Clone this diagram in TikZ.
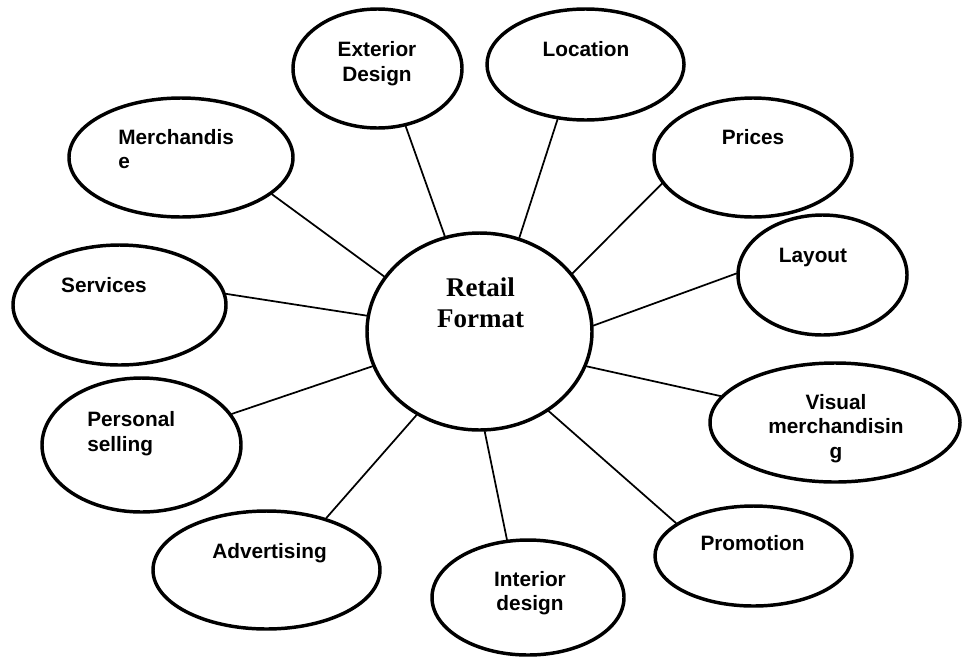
\documentclass[tikz,border=0pt]{standalone}
\usepackage{fontspec}
\setmainfont{Liberation Serif}
\newfontfamily\arialfont{Liberation Sans}
\usepackage{tikz}
\usetikzlibrary{shapes.geometric}
\definecolor{ink}{HTML}{000000}
\tikzset{
  bub/.style={draw=ink, ellipse, line width=2.6pt, inner sep=0pt},
  link/.style={draw=ink, line width=1.3pt, line cap=round},
  lab/.style={text=ink, font=\arialfont\bfseries\fontsize{15.6}{18.4}\selectfont, inner sep=0pt, anchor=base, align=center},
  hub/.style={text=ink, font=\bfseries\fontsize{20.25}{23.25}\selectfont, inner sep=0pt, anchor=base, align=center},
}

\begin{document}
\begin{tikzpicture}[x=0.75pt,y=-0.75pt]
  \useasboundingbox (0,0) rectangle (962,661);
  % ellipses: name/x/y/half width/half height
  \foreach \n/\x/\y/\a/\b in {ctr/479.5/331.5/112.5/98.5, merch/181/157.5/112/59.5,
      ext/377.5/68.5/84.5/59.5, loc/585.5/64.5/98.5/55.5, pri/753/157.5/99/59.5,
      lay/822.5/275/84.5/60, vis/835/422.5/125/59.5, pro/753.5/556/98.5/50,
      int/528/597.5/96/57.5, adv/266.5/570/113.5/59, per/141.5/445/99.5/67,
      ser/119.5/305/106.5/60}
    \node[bub, minimum width={1.5pt*\a}, minimum height={1.5pt*\b}] (\n) at (\x,\y) {};
  % texts (base = last line)
  \node[hub] (ctrT) at (480.5,327.7) {Retail\\Format};
  \node[lab, anchor=base west, align=left] (merchT) at (118,168.8) {Merchandis\\e};
  \node[lab] (extT) at (377,81) {Exterior\\Design};
  \node[lab] (locT) at (586,56) {Location};
  \node[lab] (priT) at (753,144) {Prices};
  \node[lab] (layT) at (813,262) {Layout};
  \node[lab] (visT) at (836,458.5) {Visual\\merchandisin\\g};
  \node[lab] (proT) at (752.5,550.7) {Promotion};
  \node[lab] (intT) at (530,610.7) {Interior\\design};
  \node[lab] (advT) at (269.5,558) {Advertising};
  \node[lab, anchor=base west, align=left] (perT) at (87,451) {Personal\\selling};
  \node[lab] (serT) at (104,292.7) {Services};
  % spokes
  \foreach \n/\a/\b in {merch/-22/150, ext/-64/110, loc/-117/67, pri/-164/32,
      lay/179/3, vis/167/-18, pro/157/-49, int/110/-87, adv/41/-127,
      per/19/-162, ser/6/172}
    \draw[link] (\n.\a) -- (ctr.\b);
\end{tikzpicture}
\end{document}
